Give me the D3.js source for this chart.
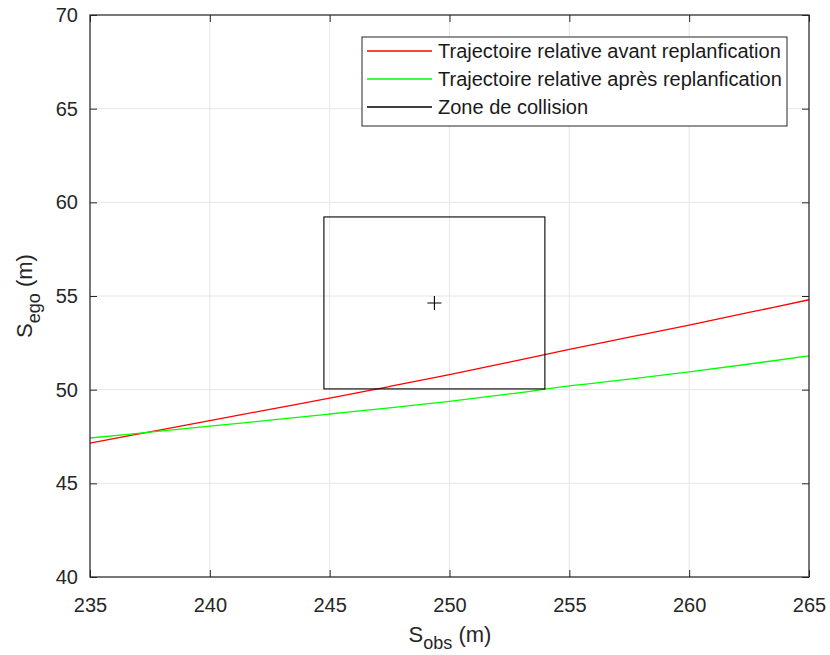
<!DOCTYPE html>
<html><head><meta charset="utf-8">
<script src="https://cdn.jsdelivr.net/npm/d3@7"></script>
<style>body{margin:0;background:#fff;} text{font-family:"Liberation Sans",Arial,sans-serif;}</style>
</head><body><svg id="c" width="830" height="655"></svg>
<script>
const xTicks = [235, 240, 245, 250, 255, 260, 265];
const yTicks = [40, 45, 50, 55, 60, 65, 70];
const redX = [235, 237.5, 240, 242.5, 245, 247.5, 250, 252.5, 255, 257.5, 260, 262.5, 265];
const redY = [47.15, 47.75, 48.35, 48.95, 49.55, 50.17, 50.8, 51.47, 52.15, 52.8, 53.45, 54.12, 54.8];
const greenX = [235, 237.5, 240, 242.5, 245, 247.5, 250, 252.5, 255, 257.5, 260, 262.5, 265];
const greenY = [47.42, 47.73, 48.05, 48.37, 48.7, 49.03, 49.38, 49.77, 50.2, 50.56, 50.95, 51.37, 51.8];
const boxX = [244.76, 253.98];
const boxY = [50.04, 59.22];
const legendLabels = ["Trajectoire relative avant replanfication", "Trajectoire relative après replanfication", "Zone de collision"];
const legendColors = ["#ff0000", "#00ff00", "#000000"];

const svg = d3.select("#c");
const L = 90, R = 809, T = 15, B = 577;
const x = d3.scaleLinear().domain([235, 265]).range([L, R]);
const y = d3.scaleLinear().domain([40, 70]).range([B, T]);
const axisCol = "#262626";

// grid
const g = svg.append("g");
g.selectAll(".gx").data(xTicks).join("line").attr("x1", d => x(d)).attr("x2", d => x(d))
  .attr("y1", T).attr("y2", B).attr("stroke", "#e6e6e6").attr("stroke-width", 1);
g.selectAll(".gy").data(yTicks).join("line").attr("y1", d => y(d)).attr("y2", d => y(d))
  .attr("x1", L).attr("x2", R).attr("stroke", "#e6e6e6").attr("stroke-width", 1);

// data
const line = d3.line().x(d => x(d[0])).y(d => y(d[1])).curve(d3.curveCatmullRom);
svg.append("path").datum(redX.map((v, i) => [v, redY[i]])).attr("d", line)
  .attr("fill", "none").attr("stroke", "#ff0000").attr("stroke-width", 1.3);
svg.append("path").datum(greenX.map((v, i) => [v, greenY[i]])).attr("d", line)
  .attr("fill", "none").attr("stroke", "#00ff00").attr("stroke-width", 1.3);
svg.append("rect").attr("x", x(boxX[0])).attr("y", y(boxY[1]))
  .attr("width", x(boxX[1]) - x(boxX[0])).attr("height", y(boxY[0]) - y(boxY[1]))
  .attr("fill", "none").attr("stroke", "#000").attr("stroke-width", 1.1);
const cx = x((boxX[0] + boxX[1]) / 2), cy = y((boxY[0] + boxY[1]) / 2);
svg.append("path").attr("d", `M${cx - 7},${cy}H${cx + 7}M${cx},${cy - 7}V${cy + 7}`)
  .attr("stroke", "#000").attr("stroke-width", 1.1);

// axes (ticks inward, box)
const tl = 7;
svg.append("g").attr("transform", `translate(0,${B})`)
  .call(d3.axisBottom(x).tickValues(xTicks).tickSizeInner(-tl).tickSizeOuter(0).tickPadding(21))
  .call(a => { a.select(".domain").remove(); a.selectAll("line").attr("stroke", axisCol);
    a.selectAll("text").attr("fill", axisCol).style("font-size", "20px"); });
svg.append("g").attr("transform", `translate(0,${T})`)
  .call(d3.axisTop(x).tickValues(xTicks).tickSizeInner(-tl).tickSizeOuter(0).tickFormat(""))
  .call(a => { a.select(".domain").remove(); a.selectAll("line").attr("stroke", axisCol); });
svg.append("g").attr("transform", `translate(${L},0)`)
  .call(d3.axisLeft(y).tickValues(yTicks).tickSizeInner(-tl).tickSizeOuter(0).tickPadding(12))
  .call(a => { a.select(".domain").remove(); a.selectAll("line").attr("stroke", axisCol);
    a.selectAll("text").attr("fill", axisCol).style("font-size", "20px"); });
svg.append("g").attr("transform", `translate(${R},0)`)
  .call(d3.axisRight(y).tickValues(yTicks).tickSizeInner(-tl).tickSizeOuter(0).tickFormat(""))
  .call(a => { a.select(".domain").remove(); a.selectAll("line").attr("stroke", axisCol); });
svg.append("rect").attr("x", L).attr("y", T).attr("width", R - L).attr("height", B - T)
  .attr("fill", "none").attr("stroke", axisCol).attr("stroke-width", 1.2);

// axis labels
const xl = svg.append("text").attr("x", 450).attr("y", 642).attr("text-anchor", "middle")
  .attr("fill", axisCol).style("font-size", "22px");
xl.append("tspan").text("S");
xl.append("tspan").attr("dy", 7).style("font-size", "18px").text("obs");
xl.append("tspan").attr("dy", -7).text(" (m)");
const yl = svg.append("text").attr("transform", `translate(32,${(T + B) / 2}) rotate(-90)`)
  .attr("text-anchor", "middle").attr("fill", axisCol).style("font-size", "22px");
yl.append("tspan").text("S");
yl.append("tspan").attr("dy", 8).style("font-size", "18px").text("ego");
yl.append("tspan").attr("dy", -8).text(" (m)");

// legend
const lg = svg.append("g");
lg.append("rect").attr("x", 362).attr("y", 37).attr("width", 425).attr("height", 89)
  .attr("fill", "#fff").attr("stroke", axisCol).attr("stroke-width", 1);
legendLabels.forEach((t, i) => {
  const yy = 51 + i * 28;
  lg.append("line").attr("x1", 367).attr("x2", 432).attr("y1", yy).attr("y2", yy)
    .attr("stroke", legendColors[i]).attr("stroke-width", 1.3);
  lg.append("text").attr("x", 438).attr("y", yy + 7).attr("fill", "#1a1a1a")
    .style("font-size", "20px").text(t);
});
</script></body></html>
